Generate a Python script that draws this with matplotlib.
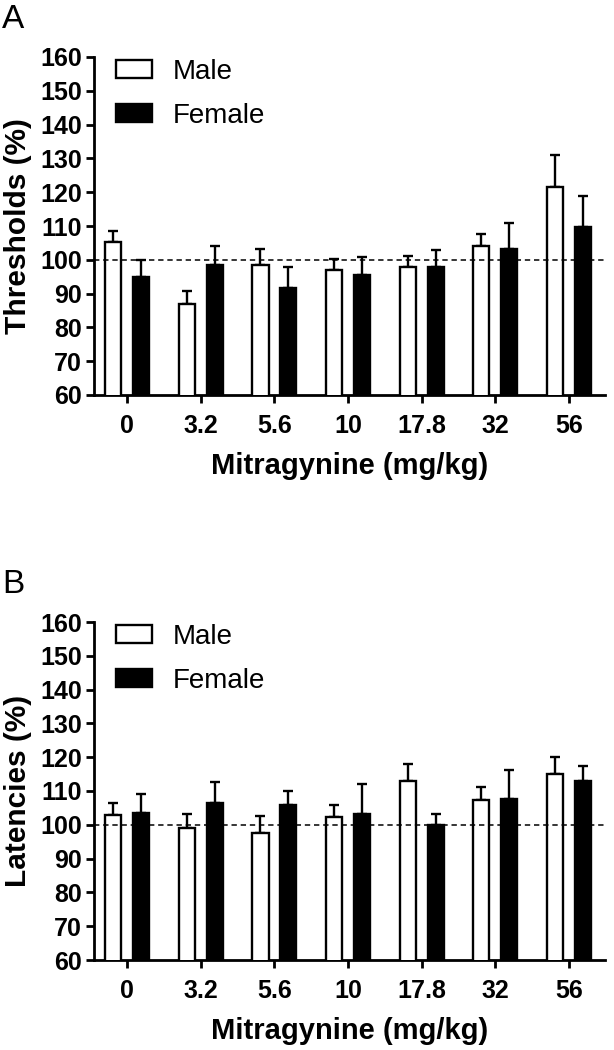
#!/usr/bin/env python
"""Mitragynine ICSS thresholds / latencies by sex (two stacked bar panels)."""

import matplotlib

matplotlib.use("Agg")
import matplotlib.pyplot as plt  # noqa: E402
import numpy as np  # noqa: E402
from matplotlib.patches import Patch  # noqa: E402

DOSES = ["0", "3.2", "5.6", "10", "17.8", "32", "56"]

THR_MALE = [105.4, 87.0, 98.5, 97.0, 97.9, 104.0, 121.5]
THR_MALE_SEM = [3.0, 3.9, 4.7, 3.3, 3.1, 3.5, 9.4]
THR_FEMALE = [94.8, 98.5, 91.6, 95.4, 97.8, 103.2, 109.8]
THR_FEMALE_SEM = [5.0, 5.7, 6.2, 5.4, 5.2, 7.7, 9.2]

LAT_MALE = [103.0, 99.1, 97.6, 102.4, 113.0, 107.3, 115.1]
LAT_MALE_SEM = [3.4, 4.2, 4.9, 3.4, 5.1, 3.8, 4.9]
LAT_FEMALE = [103.4, 106.4, 106.0, 103.3, 99.9, 107.7, 113.0]
LAT_FEMALE_SEM = [5.6, 6.2, 3.9, 8.9, 3.3, 8.5, 4.4]

plt.rcParams["font.family"] = ["Liberation Sans", "DejaVu Sans"]

W, H = 614, 1050
LW = 1.7


def panel(ax, male, male_sem, female, female_sem, ylabel):
    x = np.arange(len(DOSES))
    off, bw = 0.19, 0.22
    ax.bar(x - off, male, bw, color="white", edgecolor="black", linewidth=LW, zorder=3)
    ax.bar(x + off, female, bw, color="black", edgecolor="black", linewidth=LW, zorder=3)
    ax.errorbar(x - off, male, yerr=[np.zeros(len(x)), male_sem], fmt="none", ecolor="black",
                elinewidth=LW, capsize=3.5, capthick=LW, zorder=2)
    ax.errorbar(x + off, female, yerr=[np.zeros(len(x)), female_sem], fmt="none", ecolor="black",
                elinewidth=LW, capsize=3.5, capthick=LW, zorder=2)
    ax.axhline(100, color="black", lw=1.1, ls=(0, (3.5, 2.5)), zorder=4)

    ax.set_ylim(60, 160)
    ax.set_xlim(-0.45, 6.49)
    ax.set_yticks(range(60, 161, 10))
    ax.set_xticks(x)
    ax.set_xticklabels(DOSES)
    for side in ("top", "right"):
        ax.spines[side].set_visible(False)
    for side in ("left", "bottom"):
        ax.spines[side].set_linewidth(2.0)
    ax.tick_params(axis="both", width=2.0, length=5.5, labelsize=18)
    ax.tick_params(axis="x", pad=8)
    ax.tick_params(axis="y", pad=3)
    for lab in ax.get_xticklabels() + ax.get_yticklabels():
        lab.set_fontweight("bold")
    ax.set_ylabel(ylabel, fontsize=21.5, fontweight="bold", labelpad=6)
    ax.set_xlabel("Mitragynine (mg/kg)", fontsize=21, fontweight="bold", labelpad=10)

    handles = [Patch(facecolor="white", edgecolor="black", linewidth=LW, label="Male"),
               Patch(facecolor="black", edgecolor="black", linewidth=LW, label="Female")]
    ax.legend(handles=handles, loc="upper left", bbox_to_anchor=(0.044, 0.995), frameon=False,
              fontsize=20, handlelength=1.27, handleheight=0.62, handletextpad=0.75,
              labelspacing=0.65, borderpad=0, borderaxespad=0)


fig = plt.figure(figsize=(W / 100, H / 100), dpi=100)
left, right = 94 / W, 605 / W
ax_a = fig.add_axes([left, 1 - 395 / H, right - left, (395 - 57) / H])
ax_b = fig.add_axes([left, 1 - 960 / H, right - left, (960 - 622) / H])

panel(ax_a, THR_MALE, THR_MALE_SEM, THR_FEMALE, THR_FEMALE_SEM, "Thresholds (%)")
panel(ax_b, LAT_MALE, LAT_MALE_SEM, LAT_FEMALE, LAT_FEMALE_SEM, "Latencies (%)")

fig.text(2 / W, 1 - 4 / H, "A", fontsize=24, va="top", ha="left")
fig.text(2 / W, 1 - 569 / H, "B", fontsize=24, va="top", ha="left")

fig.savefig("out.png", dpi=100)
